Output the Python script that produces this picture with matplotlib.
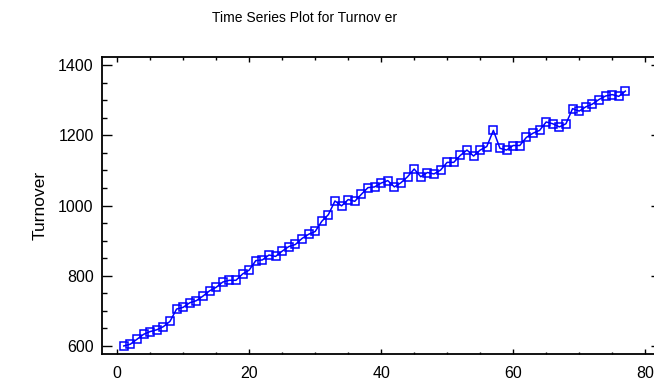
import matplotlib
matplotlib.use("Agg")
import matplotlib.pyplot as plt
from matplotlib.ticker import MultipleLocator

plt.rcParams['font.family'] = ['Liberation Sans', 'DejaVu Sans']

# Turnover observations, period 1..77
period = list(range(1, 78))
turnover = [
    600, 605, 619, 633, 641, 646, 655, 670, 705, 710,
    723, 729, 742, 757, 767, 782, 787, 787, 805, 816,
    843, 845, 859, 855, 870, 883, 889, 906, 918, 926,
    955, 974, 1013, 999, 1017, 1012, 1032, 1051, 1053, 1064,
    1071, 1053, 1065, 1082, 1104, 1082, 1094, 1090, 1101, 1123,
    1123, 1143, 1158, 1141, 1158, 1168, 1214, 1163, 1158, 1171,
    1171, 1194, 1206, 1214, 1238, 1233, 1224, 1233, 1276, 1269,
    1281, 1289, 1302, 1312, 1316, 1311, 1326,
]

title_text = "Time Series Plot for Turnov er"
y_label = "Turnover"
x_ticks = [0, 20, 40, 60, 80]
y_ticks = [600, 800, 1000, 1200, 1400]

W, H = 654, 382
fig = plt.figure(figsize=(W / 100, H / 100), dpi=100)
left, right, top, bottom = 102, 661, 56.7, 354
ax = fig.add_axes([left / W, 1 - bottom / H, (right - left) / W, (bottom - top) / H])

ax.plot(period, turnover, color='#0000FF', linewidth=1.1,
        marker='s', markersize=5.5, markerfacecolor='none',
        markeredgecolor='#0000FF', markeredgewidth=1.1)

ax.set_xlim(-2.3, 82.4)
ax.set_ylim(577, 1424)
ax.set_xticks(x_ticks)
ax.set_yticks(y_ticks)
ax.xaxis.set_minor_locator(MultipleLocator(5))
ax.yaxis.set_minor_locator(MultipleLocator(50))

for s in ax.spines.values():
    s.set_linewidth(1.3)

ax.tick_params(axis='both', which='both', direction='in', top=True, right=True,
               colors='black', labelsize=11.5)
ax.tick_params(axis='x', which='major', length=3.5, width=1.0, pad=9)
ax.tick_params(axis='x', which='minor', length=1.8, width=1.0)
ax.tick_params(axis='y', which='major', length=7, width=1.0, pad=6)
ax.tick_params(axis='y', which='minor', length=3.5, width=1.0)

fig.text(305 / W, 1 - 18 / H, title_text, ha='center', va='center', fontsize=10)
fig.text(40 / W, 1 - 205 / H, y_label, ha='center', va='center',
         rotation=90, fontsize=12.5)

fig.savefig("out.png", dpi=100)
